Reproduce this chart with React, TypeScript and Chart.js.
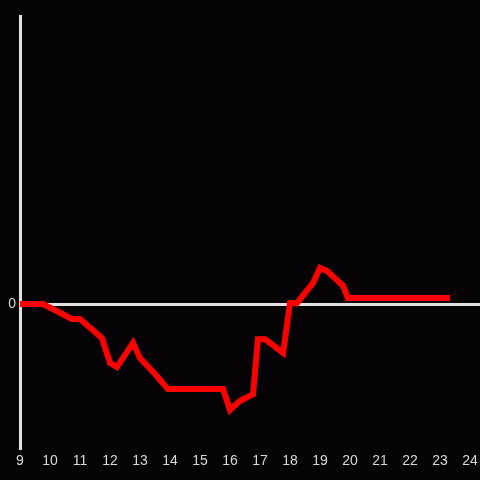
import React, { useEffect, useRef } from "react";
import { Chart, registerables } from "chart.js";

Chart.register(...registerables);

const hours = [9, 9.77, 10.73, 11.0, 11.73, 12.0, 12.23, 12.77, 13.0, 13.5, 13.93, 15.77, 16.0, 16.33, 16.77, 16.93, 17.17, 17.77, 18.0, 18.23, 18.77, 19.0, 19.23, 19.77, 19.93, 23.33];
const values = [0, 0, -5.2, -5.2, -11.8, -20.5, -21.9, -13.5, -18.8, -24.3, -29.5, -29.5, -36.8, -33.7, -31.3, -12.2, -12.2, -17.0, 0.3, 0.3, 7.3, 12.5, 11.5, 6.3, 2.1, 2.1];
const xTicks = [9, 10, 11, 12, 13, 14, 15, 16, 17, 18, 19, 20, 21, 22, 23, 24];
const yTicks = [0];

const bgPlugin = {
  id: "bg",
  beforeDraw(chart: any) {
    const ctx = chart.ctx;
    ctx.save();
    ctx.fillStyle = "#050306";
    ctx.fillRect(0, 0, chart.width, chart.height);
    ctx.restore();
  },
};

export default function App() {
  const ref = useRef<HTMLCanvasElement>(null);
  useEffect(() => {
    document.body.style.margin = "0";
    const chart = new Chart(ref.current!, {
      type: "line",
      data: {
        datasets: [
          {
            data: hours.map((h, i) => ({ x: h, y: values[i] })),
            borderColor: "#ff0000",
            borderWidth: 6,
            pointRadius: 0,
            tension: 0,
            fill: false,
          },
        ],
      },
      options: {
        animation: false,
        responsive: false,
        maintainAspectRatio: false,
        layout: { padding: { top: 16, right: 0, left: 0, bottom: 0 } },
        plugins: { legend: { display: false }, tooltip: { enabled: false } },
        scales: {
          x: {
            type: "linear",
            min: 9,
            max: 24.333,
            afterBuildTicks: (s: any) => {
              s.ticks = xTicks.map((v) => ({ value: v }));
            },
            afterFit: (s: any) => {
              s.height = 32;
              s.paddingRight = 0;
              s.paddingLeft = 0;
            },
            grid: { display: false, drawTicks: false },
            border: { display: false },
            ticks: {
              color: "#d8d8d8",
              padding: 5,
              maxRotation: 0,
              autoSkip: false,
              font: { family: "Liberation Sans", size: 14 },
            },
          },
          y: {
            min: -50,
            max: 100,
            afterBuildTicks: (s: any) => {
              s.ticks = yTicks.map((v) => ({ value: v }));
            },
            afterFit: (s: any) => {
              s.width = 20;
              s.paddingTop = 0;
              s.paddingBottom = 0;
            },
            grid: {
              drawTicks: false,
              color: "#e2e2e2",
              lineWidth: 3,
            },
            border: { display: true, color: "#e2e2e2", width: 3 },
            ticks: {
              color: "#d8d8d8",
              padding: 4,
              font: { family: "Liberation Sans", size: 14 },
            },
          },
        },
      },
      plugins: [bgPlugin],
    });
    return () => chart.destroy();
  }, []);
  return (
    <div style={{ width: 480, height: 480, background: "#050306" }}>
      <canvas ref={ref} width={480} height={480} style={{ display: "block" }} />
    </div>
  );
}
